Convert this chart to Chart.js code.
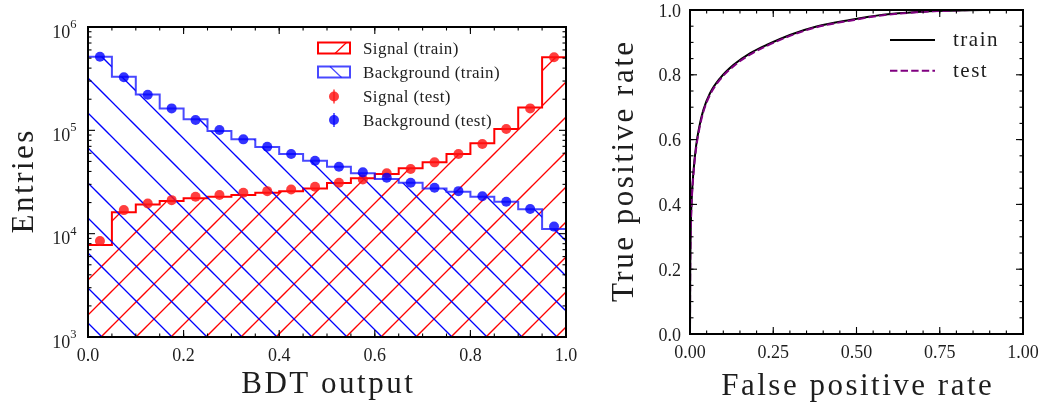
<!DOCTYPE html>
<html>
<head>
<meta charset="utf-8">
<script src="https://cdn.jsdelivr.net/npm/chart.js@4.4.1/dist/chart.umd.min.js"></script>
<style>
  html, body { margin: 0; padding: 0; background: #fff; }
  #wrap { position: relative; width: 1047px; height: 407px; }
  canvas { position: absolute; left: 0; top: 0; }
</style>
</head>
<body>
<div id="wrap">
  <canvas id="bdtChart" width="1047" height="407"></canvas>
  <canvas id="rocChart" width="1047" height="407"></canvas>
</div>
<script>
// BDT output histograms: 20 bins between 0 and 1
const bdtEdges = [0.00, 0.05, 0.10, 0.15, 0.20, 0.25, 0.30, 0.35, 0.40, 0.45, 0.50,
                  0.55, 0.60, 0.65, 0.70, 0.75, 0.80, 0.85, 0.90, 0.95, 1.00];
const signalTrain = [7750, 16100, 19200, 20700, 22000, 22800, 23700, 24900, 25800, 27400,
                     31000, 34300, 37800, 42900, 49000, 59000, 74800, 103000, 166000, 509000];
const backgroundTrain = [516000, 330000, 222000, 163000, 128000, 98800, 81800, 69000, 59000, 50800,
                         44500, 38400, 33800, 31100, 27400, 25500, 22800, 20400, 17200, 11100];
const signalTest = [8500, 16900, 19600, 21100, 22800, 23700, 24900, 25800, 26800, 28500,
                    31100, 33500, 38400, 42200, 49000, 59000, 73600, 103000, 163000, 509000];
const backgroundTest = [516000, 326000, 221000, 163000, 126000, 100700, 81800, 69400, 59000, 50800,
                        44500, 39200, 34800, 31100, 27800, 25800, 23000, 20400, 17300, 11700];
const bdtTicks = [0, 0.2, 0.4, 0.6, 0.8, 1.0];
const bdtTickLabels = ['0.0', '0.2', '0.4', '0.6', '0.8', '1.0'];
const entryTicks = [1e3, 1e4, 1e5, 1e6];
const histLegend = ['Signal (train)', 'Background (train)', 'Signal (test)', 'Background (test)'];

// ROC curves
const rocFpr = [0, 0.0005, 0.002, 0.005, 0.01, 0.018, 0.028, 0.04, 0.06, 0.09, 0.13,
                0.18, 0.23, 0.30, 0.38, 0.48, 0.58, 0.68, 0.78, 0.88, 1.0];
const rocTrainTpr = [0, 0.16, 0.31, 0.414, 0.496, 0.578, 0.640, 0.691, 0.743, 0.789, 0.830,
                     0.866, 0.892, 0.923, 0.949, 0.969, 0.985, 0.994, 0.998, 1.0, 1.0];
const rocTestTpr = [0, 0.15, 0.30, 0.405, 0.488, 0.570, 0.633, 0.685, 0.738, 0.785, 0.826,
                    0.862, 0.889, 0.920, 0.947, 0.967, 0.984, 0.993, 0.998, 1.0, 1.0];
const fprTicks = [0, 0.25, 0.5, 0.75, 1.0];
const fprTickLabels = ['0.00', '0.25', '0.50', '0.75', '1.00'];
const tprTicks = [0, 0.2, 0.4, 0.6, 0.8, 1.0];
const tprTickLabels = ['0.0', '0.2', '0.4', '0.6', '0.8', '1.0'];
const rocLegend = ['train', 'test'];

const SERIF = '"Liberation Serif", "DejaVu Serif", serif';
const INK = '#1e1e1e';
const RED = '#ff0000';
const BLUE = 'rgba(20, 20, 255, 0.78)';

// every 0.05 along a [0, 1] axis
const twentieths = bdtEdges;

// step histogram points: each bin value starts at its left edge
function stepPoints(values) {
  return bdtEdges.map((x, i) => ({ x, y: values[Math.min(i, values.length - 1)] }));
}
function centrePoints(values) {
  return values.map((y, i) => ({ x: (bdtEdges[i] + bdtEdges[i + 1]) / 2, y }));
}

// 45 degree hatch, one line every 35px horizontally
function hatch(ctx, colour, dir, offset) {
  const s = 35;
  const tile = document.createElement('canvas');
  tile.width = s; tile.height = s;
  const g = tile.getContext('2d');
  g.strokeStyle = colour;
  g.lineWidth = 1.3;
  for (let k = -2; k <= 2; k++) {
    const o = offset + k * s;
    g.beginPath();
    if (dir > 0) { g.moveTo(o + 5, -5); g.lineTo(o - s - 5, s + 5); }
    else { g.moveTo(o - 5, -5); g.lineTo(o + s + 5, s + 5); }
    g.stroke();
  }
  return ctx.createPattern(tile, 'repeat');
}

function seg(ctx, x1, y1, x2, y2) {
  ctx.beginPath(); ctx.moveTo(x1, y1); ctx.lineTo(x2, y2); ctx.stroke();
}

// inward ticks on all four sides plus the box
function drawFrame(chart, xMajor, xMinor, yMajor, yMinor) {
  const { ctx, chartArea: a } = chart;
  const xs = chart.scales.x, ys = chart.scales.y;
  ctx.save();
  ctx.strokeStyle = '#000';
  ctx.lineWidth = 1.1;
  const xt = (vals, len) => vals.forEach(v => {
    const p = xs.getPixelForValue(v);
    seg(ctx, p, a.bottom, p, a.bottom - len);
    seg(ctx, p, a.top, p, a.top + len);
  });
  const yt = (vals, len) => vals.forEach(v => {
    const p = ys.getPixelForValue(v);
    seg(ctx, a.left, p, a.left + len, p);
    seg(ctx, a.right, p, a.right - len, p);
  });
  xt(xMinor, 3.5); xt(xMajor, 7);
  yt(yMinor, 3.5); yt(yMajor, 7);
  ctx.lineWidth = 2;
  ctx.strokeRect(a.left, a.top, a.right - a.left, a.bottom - a.top);
  ctx.restore();
}

function axisTitle(ctx, text, x, y, rotate) {
  ctx.save();
  ctx.fillStyle = INK;
  ctx.font = '31px ' + SERIF;
  ctx.letterSpacing = '2.5px';
  ctx.textAlign = 'center';
  ctx.textBaseline = 'alphabetic';
  ctx.translate(x, y);
  if (rotate) ctx.rotate(-Math.PI / 2);
  ctx.fillText(text, 1.25, 0);
  ctx.restore();
}

const logMinor = [];
[1e3, 1e4, 1e5].forEach(d => { for (let m = 2; m <= 9; m++) logMinor.push(m * d); });

const bdtFrame = {
  id: 'bdtFrame',
  afterDraw(chart) {
    const { ctx, chartArea: a } = chart;
    const xs = chart.scales.x, ys = chart.scales.y;
    drawFrame(chart, bdtTicks, twentieths, entryTicks, logMinor);

    ctx.save();
    ctx.fillStyle = INK;
    ctx.textBaseline = 'alphabetic';
    ctx.font = '18px ' + SERIF;
    ctx.textAlign = 'center';
    bdtTicks.forEach((v, i) => ctx.fillText(bdtTickLabels[i], xs.getPixelForValue(v), a.bottom + 23.5));

    ctx.textAlign = 'right';
    entryTicks.forEach(v => {
      const py = ys.getPixelForValue(v);
      const exp = String(Math.round(Math.log10(v)));
      const right = a.left - 11.5;
      ctx.font = '12.5px ' + SERIF;
      const w = ctx.measureText(exp).width;
      ctx.fillText(exp, right, py + 1);
      ctx.font = '18px ' + SERIF;
      ctx.fillText('10', right - w, py + 10.5);
    });
    ctx.restore();

    axisTitle(ctx, 'BDT output', (a.left + a.right) / 2, 393);
    axisTitle(ctx, 'Entries', 33, (a.top + a.bottom) / 2, true);

    // legend
    ctx.save();
    const lx = 318, lw = 32, tx = 363;
    const rows = [48, 72, 96.5, 120];
    ctx.lineWidth = 2;
    ctx.strokeStyle = RED;
    ctx.strokeRect(lx, rows[0] - 5.5, lw, 11);
    ctx.lineWidth = 1.2;
    seg(ctx, lx + 17, rows[0] + 5.5, lx + 28.5, rows[0] - 5.5);
    ctx.lineWidth = 2;
    ctx.strokeStyle = BLUE;
    ctx.strokeRect(lx, rows[1] - 5.5, lw, 11);
    ctx.lineWidth = 1.2;
    seg(ctx, lx + 12, rows[1] - 5.5, lx + 23.5, rows[1] + 5.5);
    [[rows[2], 'rgba(255, 20, 20, 0.82)'], [rows[3], 'rgba(0, 0, 255, 0.8)']].forEach(([ry, c]) => {
      ctx.strokeStyle = c; ctx.fillStyle = c; ctx.lineWidth = 1.5;
      seg(ctx, lx + lw / 2, ry - 7, lx + lw / 2, ry + 7);
      ctx.beginPath(); ctx.arc(lx + lw / 2, ry, 5, 0, Math.PI * 2); ctx.fill();
    });
    ctx.fillStyle = INK;
    ctx.font = '17px ' + SERIF;
    ctx.letterSpacing = '0.4px';
    ctx.textAlign = 'left';
    ctx.textBaseline = 'alphabetic';
    histLegend.forEach((t, i) => ctx.fillText(t, tx, rows[i] + 5.5));
    ctx.restore();
  }
};

const bdtCanvas = document.getElementById('bdtChart');
const bdtCtx = bdtCanvas.getContext('2d');

new Chart(bdtCanvas, {
  type: 'line',
  data: {
    datasets: [
      {
        label: histLegend[3], data: centrePoints(backgroundTest), showLine: false,
        pointRadius: 5, pointBorderWidth: 0, pointBackgroundColor: 'rgba(0, 0, 255, 0.8)', order: 0
      },
      {
        label: histLegend[2], data: centrePoints(signalTest), showLine: false,
        pointRadius: 5, pointBorderWidth: 0, pointBackgroundColor: 'rgba(255, 20, 20, 0.82)', order: 1
      },
      {
        label: histLegend[1], data: stepPoints(backgroundTrain), stepped: 'before',
        borderColor: BLUE, borderWidth: 2, pointRadius: 0,
        fill: 'start', backgroundColor: hatch(bdtCtx, '#0000ff', -1, 10), order: 2
      },
      {
        label: histLegend[0], data: stepPoints(signalTrain), stepped: 'before',
        borderColor: RED, borderWidth: 2, pointRadius: 0,
        fill: 'start', backgroundColor: hatch(bdtCtx, '#ff0000', 1, 18), order: 3
      }
    ]
  },
  options: {
    responsive: false,
    animation: false,
    devicePixelRatio: 1,
    layout: { padding: { left: 88, top: 27, right: 1047 - 566, bottom: 407 - 337 } },
    plugins: { legend: { display: false }, tooltip: { enabled: false } },
    scales: {
      x: { type: 'linear', min: 0, max: 1, display: false },
      y: { type: 'logarithmic', min: 1e3, max: 1e6, display: false }
    }
  },
  plugins: [bdtFrame]
});

const rocFrame = {
  id: 'rocFrame',
  afterDraw(chart) {
    const { ctx, chartArea: a } = chart;
    const xs = chart.scales.x, ys = chart.scales.y;
    drawFrame(chart, fprTicks, twentieths, tprTicks, twentieths);

    ctx.save();
    ctx.fillStyle = INK;
    ctx.font = '18px ' + SERIF;
    ctx.textBaseline = 'alphabetic';
    ctx.textAlign = 'center';
    fprTicks.forEach((v, i) => ctx.fillText(fprTickLabels[i], xs.getPixelForValue(v), a.bottom + 24));
    ctx.textAlign = 'right';
    tprTicks.forEach((v, i) => ctx.fillText(tprTickLabels[i], a.left - 9, ys.getPixelForValue(v) + 6.5));
    ctx.restore();

    axisTitle(ctx, 'False positive rate', (a.left + a.right) / 2, 395);
    axisTitle(ctx, 'True positive rate', 633, (a.top + a.bottom) / 2, true);

    // legend
    ctx.save();
    ctx.lineWidth = 2;
    ctx.strokeStyle = '#000';
    seg(ctx, 890, 40, 935, 40);
    ctx.strokeStyle = '#800080';
    ctx.setLineDash([7.4, 3.2]);
    seg(ctx, 890, 70.7, 935, 70.7);
    ctx.setLineDash([]);
    ctx.fillStyle = INK;
    ctx.font = '21px ' + SERIF;
    ctx.letterSpacing = '1.5px';
    ctx.textAlign = 'left';
    ctx.textBaseline = 'alphabetic';
    ctx.fillText(rocLegend[0], 953, 46);
    ctx.fillText(rocLegend[1], 953, 77.3);
    ctx.restore();
  }
};

new Chart(document.getElementById('rocChart'), {
  type: 'line',
  data: {
    datasets: [
      {
        label: rocLegend[1], data: rocFpr.map((x, i) => ({ x, y: rocTestTpr[i] })),
        borderColor: '#800080', borderWidth: 2, borderDash: [7.4, 3.2],
        pointRadius: 0, cubicInterpolationMode: 'monotone', order: 0
      },
      {
        label: rocLegend[0], data: rocFpr.map((x, i) => ({ x, y: rocTrainTpr[i] })),
        borderColor: '#000000', borderWidth: 2,
        pointRadius: 0, cubicInterpolationMode: 'monotone', order: 1
      }
    ]
  },
  options: {
    responsive: false,
    animation: false,
    devicePixelRatio: 1,
    layout: { padding: { left: 690, top: 10, right: 1047 - 1023, bottom: 407 - 334 } },
    plugins: { legend: { display: false }, tooltip: { enabled: false } },
    scales: {
      x: { type: 'linear', min: 0, max: 1, display: false },
      y: { type: 'linear', min: 0, max: 1, display: false }
    }
  },
  plugins: [rocFrame]
});
</script>
</body>
</html>
